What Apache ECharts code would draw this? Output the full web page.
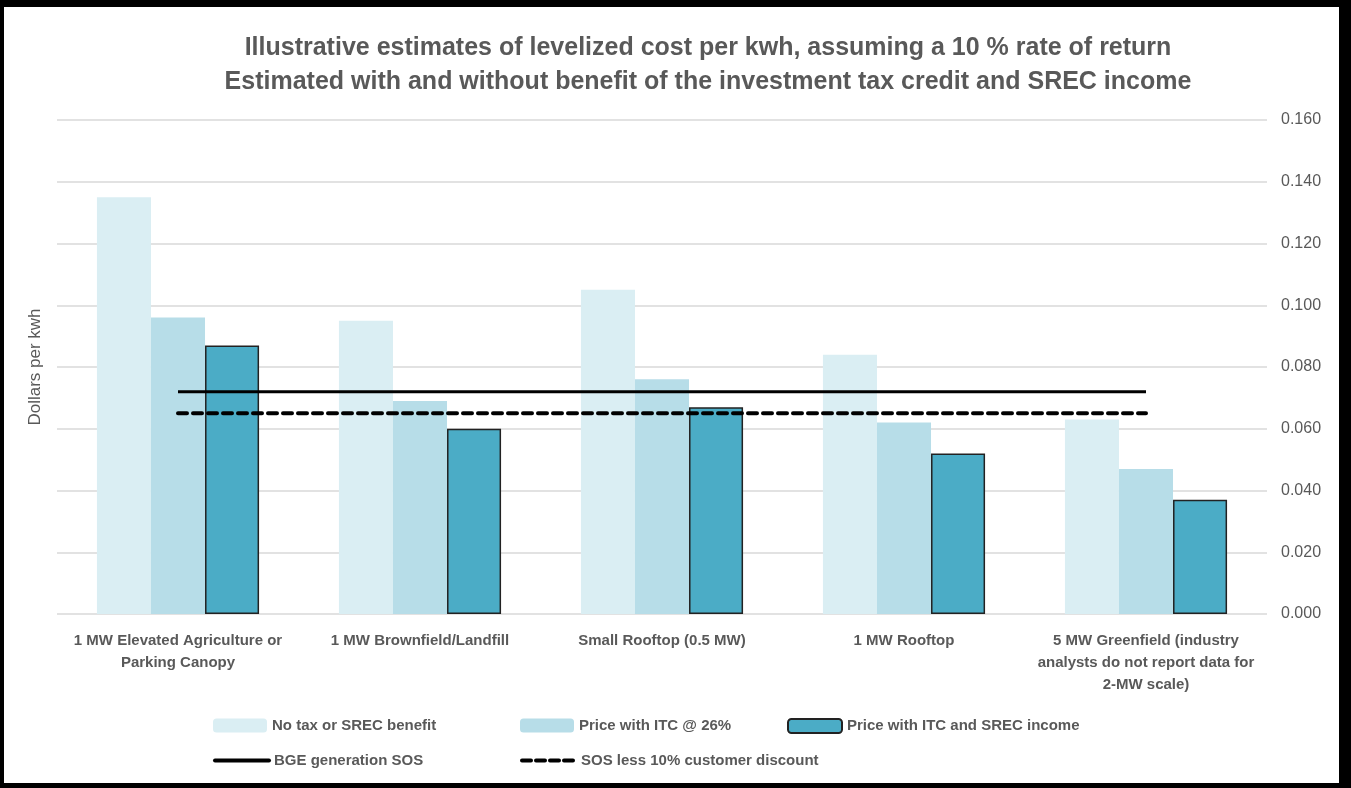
<!DOCTYPE html>
<html>
<head>
<meta charset="utf-8">
<script src="https://cdn.jsdelivr.net/npm/echarts@6/dist/echarts.min.js"></script>
<style>
html, body { margin: 0; padding: 0; background: #000; }
#frame { position: absolute; left: 4px; top: 7px; right: 12px; bottom: 5px; background: #fff; }
#chart { position: absolute; left: -4px; top: -7px; width: 1351px; height: 788px; }
</style>
</head>
<body>
<div id="frame"><div id="chart"></div></div>
<script>
var categories = [
	'1 MW Elevated Agriculture or\nParking Canopy',
	'1 MW Brownfield/Landfill',
	'Small Rooftop (0.5 MW)',
	'1 MW Rooftop',
	'5 MW Greenfield (industry\nanalysts do not report data for\n2-MW scale)'
];
var noBenefit = [0.135, 0.095, 0.105, 0.084, 0.063];
var withItc = [0.096, 0.069, 0.076, 0.062, 0.047];
var withItcSrec = [0.087, 0.060, 0.067, 0.052, 0.037];
var bgeSos = [0.072, 0.072, 0.072, 0.072, 0.072];
var sosDiscount = [0.065, 0.065, 0.065, 0.065, 0.065];

var font = '"Liberation Sans", sans-serif';
var grey = '#595959';

var myChart = echarts.init(document.getElementById('chart'));

function legendAt(name, left, top, lineType) {
	var lg = {
		data: [name],
		left: left,
		top: top,
		itemWidth: 54,
		itemHeight: 14,
		itemGap: 6,
		textStyle: { color: grey, fontSize: 15, fontWeight: 'bold', fontFamily: font }
	};
	if (lineType) {
		// hide the marker dot, keep a thick line
		lg.itemStyle = { opacity: 0 };
		lg.lineStyle = { width: 4, type: lineType, cap: 'round' };
	}
	return lg;
}

var option = {
	animation: false,
	title: {
		text: 'Illustrative estimates of levelized cost per kwh, assuming a 10 % rate of return\nEstimated with and without benefit of the investment tax credit and SREC income',
		left: 703,
		textAlign: 'center',
		top: 26,
		textStyle: {
			color: grey,
			fontSize: 25,
			fontWeight: 'bold',
			fontFamily: font,
			lineHeight: 34
		}
	},
	legend: [
		legendAt('No tax or SREC benefit', 208, 713),
		legendAt('Price with ITC @ 26%', 515, 713),
		legendAt('Price with ITC and SREC income', 782, 713),
		legendAt('BGE generation SOS', 208, 748, 'solid'),
		legendAt('SOS less 10% customer discount', 515, 748, [9, 5])
	],
	grid: {
		left: 57,
		right: 84,
		top: 120,
		bottom: 174
	},
	xAxis: {
		type: 'category',
		data: categories,
		axisLine: { show: false },
		axisTick: { show: false },
		axisLabel: {
			color: grey,
			fontSize: 15,
			fontWeight: 'bold',
			fontFamily: font,
			lineHeight: 22,
			margin: 16,
			interval: 0
		}
	},
	yAxis: [{
		type: 'value',
		position: 'right',
		min: 0,
		max: 0.16,
		interval: 0.02,
		axisLine: { show: false },
		axisTick: { show: false },
		splitLine: { lineStyle: { color: '#d9d9d9', width: 1.5 } },
		axisLabel: {
			color: grey,
			fontSize: 16,
			fontFamily: font,
			margin: 14,
			formatter: function(v) { return v.toFixed(3); }
		}
	}, {
		type: 'value',
		position: 'left',
		min: 0,
		max: 0.16,
		interval: 0.02,
		name: 'Dollars per kwh',
		nameLocation: 'middle',
		nameGap: 13,
		nameTextStyle: { color: grey, fontSize: 17, fontFamily: font },
		axisLine: { show: false },
		axisTick: { show: false },
		axisLabel: { show: false },
		splitLine: { show: false }
	}],
	series: [{
		name: 'No tax or SREC benefit',
		type: 'bar',
		data: noBenefit,
		barGap: '0%',
		barCategoryGap: '33%',
		itemStyle: { color: '#daeef3' }
	}, {
		name: 'Price with ITC @ 26%',
		type: 'bar',
		data: withItc,
		itemStyle: { color: '#b7dde8' }
	}, {
		name: 'Price with ITC and SREC income',
		type: 'bar',
		data: withItcSrec,
		itemStyle: { color: '#4bacc6', borderColor: '#222', borderWidth: 1.5 }
	}, {
		name: 'BGE generation SOS',
		type: 'line',
		data: bgeSos,
		symbol: 'none',
		lineStyle: { color: '#000', width: 3 },
		itemStyle: { color: '#000' }
	}, {
		name: 'SOS less 10% customer discount',
		type: 'line',
		data: sosDiscount,
		symbol: 'none',
		lineStyle: { color: '#000', width: 4, type: [9, 6], cap: 'round' },
		itemStyle: { color: '#000' }
	}]
};

myChart.setOption(option);
</script>
</body>
</html>
